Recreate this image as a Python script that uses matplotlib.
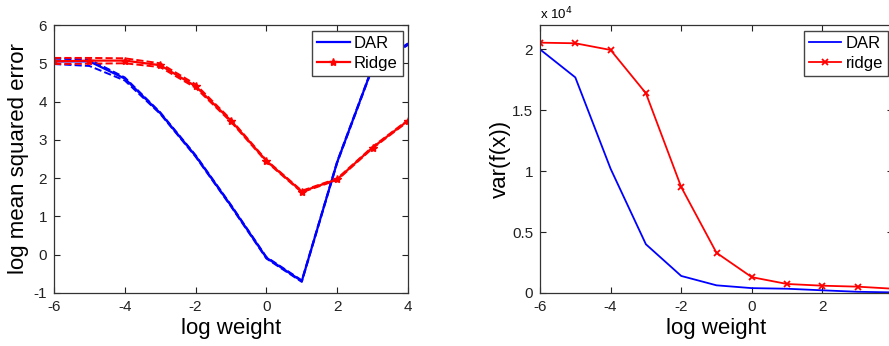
import numpy as np
import matplotlib
matplotlib.use('Agg')
import matplotlib.pyplot as plt

plt.rcParams['font.family'] = ['Liberation Sans', 'DejaVu Sans']
plt.rcParams['axes.unicode_minus'] = False

# log weight grid shared by both panels
log_w = [-6, -5, -4, -3, -2, -1, 0, 1, 2, 3, 4]
x_ticks = [-6, -4, -2, 0, 2, 4]

# left panel: log mean squared error
mse_dar = [5.05, 5.05, 4.6, 3.7, 2.58, 1.28, -0.08, -0.69, 2.42, 4.9, 5.5]
mse_dar_hi = [5.12, 5.1, 4.63, 3.72, 2.6, 1.3, -0.06, -0.67, 2.44, 4.92, 5.52]
mse_dar_lo = [4.98, 4.93, 4.55, 3.68, 2.56, 1.26, -0.1, -0.71, 2.4, 4.88, 5.48]
mse_ridge = [5.05, 5.07, 5.07, 4.95, 4.4, 3.5, 2.45, 1.65, 1.97, 2.8, 3.5]
mse_ridge_hi = [5.14, 5.14, 5.13, 5.0, 4.45, 3.53, 2.47, 1.67, 1.99, 2.82, 3.52]
mse_ridge_lo = [4.98, 4.99, 5.0, 4.9, 4.36, 3.47, 2.43, 1.63, 1.95, 2.78, 3.48]

# right panel: var(f(x)) in units of 1e4
var_dar = [2.0, 1.77, 1.02, 0.40, 0.14, 0.063, 0.04, 0.035, 0.022, 0.01, 0.005]
var_ridge = [2.055, 2.05, 1.995, 1.64, 0.87, 0.33, 0.13, 0.074, 0.06, 0.052, 0.035]
var_ticks = [0, 0.5, 1, 1.5, 2]
var_labels = ['0', '0.5', '1', '1.5', '2']

W, H = 889, 346
fig = plt.figure(figsize=(W / 100, H / 100), dpi=100)


def px_axes(left, top, right, bottom):
    return fig.add_axes([left / W, 1 - bottom / H,
                         (right - left) / W, (bottom - top) / H])


def matlab_style(ax):
    ax.tick_params(direction='in', top=True, right=True, labelsize=11,
                   length=4, width=0.8, colors='#222222', pad=5)
    for s in ax.spines.values():
        s.set_color('#333333')
        s.set_linewidth(0.9)


def matlab_legend(ax, **kw):
    leg = ax.legend(fontsize=12, fancybox=False, framealpha=1,
                    edgecolor='#444444', handlelength=1.95,
                    handletextpad=0.25, labelspacing=0.3, borderpad=0.3,
                    **kw)
    leg.get_frame().set_linewidth(1.0)
    return leg


# left panel
ax1 = px_axes(54, 25, 408, 293)
ax1.plot(log_w, mse_dar_hi, '--', color='#0000ff', lw=1.4)
ax1.plot(log_w, mse_dar_lo, '--', color='#0000ff', lw=1.4)
ax1.plot(log_w, mse_ridge_hi, '--', color='#ff0000', lw=1.4)
ax1.plot(log_w, mse_ridge_lo, '--', color='#ff0000', lw=1.4)
ax1.plot(log_w, mse_dar, '-', color='#0000ff', lw=1.6, label='DAR')
ax1.plot(log_w, mse_ridge, '-', color='#ff0000', lw=1.6, marker='*',
         ms=6, label='Ridge')
ax1.set_xlim(-6, 4)
ax1.set_ylim(-1, 6)
ax1.set_xticks(x_ticks)
ax1.set_yticks(range(-1, 7))
ax1.set_xlabel('log weight', fontsize=16, labelpad=3)
ax1.set_ylabel('log mean squared error', fontsize=16)
ax1.yaxis.set_label_coords(-0.071, 0.5)
matlab_style(ax1)
matlab_legend(ax1, loc='upper right', borderaxespad=0.33)

# right panel (extends past the figure edge, as in the original)
ax2 = px_axes(540, 25, 893, 293)
ax2.plot(log_w, var_dar, '-', color='#0000ff', lw=1.3, label='DAR')
ax2.plot(log_w, var_ridge, '-', color='#ff0000', lw=1.3, marker='x',
         ms=4, mew=1.3, label='ridge')
ax2.set_xlim(-6, 4)
ax2.set_ylim(0, 2.2)
ax2.set_xticks(x_ticks)
ax2.set_xticklabels([str(t) for t in x_ticks[:-1]] + [''])
ax2.set_yticks(var_ticks)
ax2.set_yticklabels(var_labels)
ax2.set_xlabel('log weight', fontsize=16, labelpad=3)
ax2.set_ylabel('var(f(x))', fontsize=16)
ax2.yaxis.set_label_coords(-0.082, 0.5)
matlab_style(ax2)
ax2.text(0.0, 1 + 6 / 268, r'x 10$^{4}$', transform=ax2.transAxes,
         fontsize=9.5, ha='left', va='baseline')
# legend placed in figure pixels since the axes is clipped on the right
matlab_legend(ax2, loc='upper right',
              bbox_to_anchor=(888 / W, 1 - 31 / H),
              bbox_transform=fig.transFigure, borderaxespad=0)

fig.savefig('out.png', dpi=100)
